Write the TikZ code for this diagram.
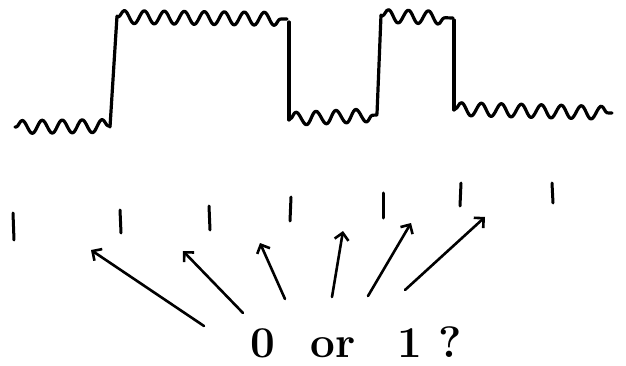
\documentclass[tikz,border=0pt]{standalone}
\usetikzlibrary{arrows.meta,decorations.pathmorphing}

\begin{document}
\begin{tikzpicture}[x=1pt, y=-1pt, line cap=round, line join=round, sig/.style={line width=3.2pt}, wig/.style={sig, decorate, decoration={snake, amplitude=6.5pt, segment length=20pt, pre length=1pt, post length=1pt}}, clk/.style={line width=3pt}, arr/.style={line width=2.6pt, -{Straight Barb[length=7pt, width=14pt]}}, qtext/.style={font=\fontsize{44}{52}\selectfont\bfseries, inner sep=0pt}]
\useasboundingbox (0,0) rectangle (626,366);
% signal
\draw[wig] (15,127) -- (110,126);
\draw[sig] (110,127) -- (117,16);
\draw[wig] (117,17) -- (287,19);
\draw[sig] (289,22) -- (289,120);
\draw[wig] (289,119) -- (377,115);
\draw[sig] (377,114) -- (381,15);
\draw[wig] (381,16) -- (453,18);
\draw[sig] (454,20) -- (454,110);
\draw[wig] (454,109) -- (612,113);
% sample ticks
\draw[clk] (13,213) -- (14,240);
\draw[clk] (120,210) -- (121,233);
\draw[clk] (209,206) -- (210,230);
\draw[clk] (291,197) -- (290,221);
\draw[clk] (383,193) -- (383,218);
\draw[clk] (461,183) -- (460,206);
\draw[clk] (552,183) -- (553,203);
% question
\node[qtext, anchor=base west] (q) at (250,357) {0\hspace{36pt}or\hspace{42pt}1\hspace{16pt}?};
\coordinate (t1) at (204,326); \coordinate (h1) at (91,250);
\coordinate (t2) at (243,313); \coordinate (h2) at (183,251);
\coordinate (t3) at (285,299); \coordinate (h3) at (260,243);
\coordinate (t4) at (332,297); \coordinate (h4) at (343,231);
\coordinate (t5) at (368,296); \coordinate (h5) at (411,223);
\coordinate (t6) at (405,290); \coordinate (h6) at (485,217);
\draw[arr] (t1) -- (h1);
\draw[arr] (t2) -- (h2);
\draw[arr] (t3) -- (h3);
\draw[arr] (t4) -- (h4);
\draw[arr] (t5) -- (h5);
\draw[arr] (t6) -- (h6);
\end{tikzpicture}
\end{document}
